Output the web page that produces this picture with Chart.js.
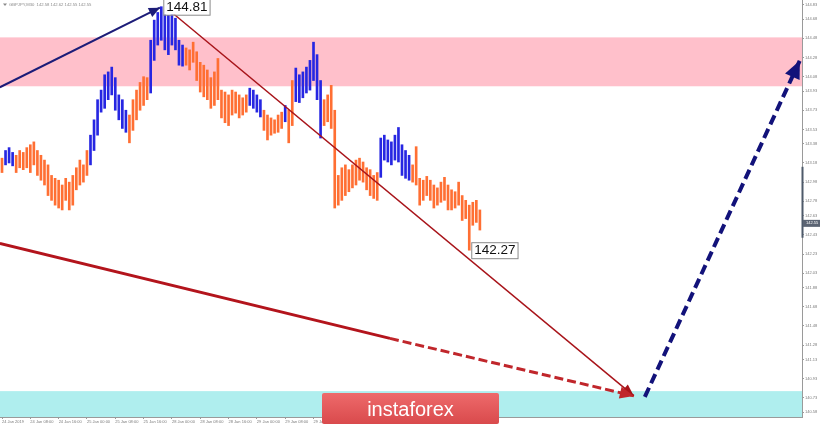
<!DOCTYPE html>
<html>
<head>
<meta charset="utf-8">
<script src="https://cdn.jsdelivr.net/npm/chart.js@4.4.1/dist/chart.umd.min.js"></script>
<style>
  html, body { margin: 0; padding: 0; background: #fff; }
  #wrap { width: 820px; height: 426px; }
</style>
</head>
<body>
<div id="wrap"><canvas id="chart" width="820" height="426"></canvas></div>
<script>
/* GBPJPY 足チャート + 波動分析の矢印・ゾーン */

const SYMBOL_TITLE = "GBPJPY,M30  142.58 142.62 142.55 142.55";

// 1本ごとの安値・高値(左端 = 24 Jan 00:00 を 0 とする足番号)
const BAR_LOW = [
  143.08, 143.16, 143.18, 143.15, 143.08, 143.13, 143.11, 143.13, 143.08, 143.16,
  143.05, 143.00, 142.95, 142.84, 142.79, 142.74, 142.71, 142.69, 142.79, 142.69,
  142.74, 142.90, 142.95, 142.98, 143.05, 143.16, 143.31, 143.47, 143.71, 143.75,
  143.84, 143.89, 143.73, 143.63, 143.54, 143.50, 143.39, 143.52, 143.63, 143.73,
  143.78, 143.84, 143.91, 144.25, 144.41, 144.46, 144.36, 144.31, 144.41, 144.36,
  144.20, 144.19, 144.20, 144.15, 144.23, 144.04, 143.92, 143.87, 143.84, 143.75,
  143.78, 143.84, 143.65, 143.60, 143.57, 143.68, 143.70, 143.65, 143.68, 143.71,
  143.78, 143.75, 143.71, 143.66, 143.52, 143.42, 143.47, 143.49, 143.50, 143.54,
  143.61, 143.39, 143.57, 143.82, 143.81, 143.86, 143.91, 143.94, 144.04, 143.84,
  143.44, 143.57, 143.61, 143.54, 142.71, 142.74, 142.79, 142.84, 142.88, 142.92,
  142.95, 143.00, 142.98, 142.90, 142.84, 142.81, 142.79, 143.03, 143.21, 143.19,
  143.16, 143.21, 143.19, 143.05, 143.02, 143.00, 142.98, 142.95, 142.74, 142.79,
  142.84, 142.79, 142.71, 142.74, 142.77, 142.79, 142.69, 142.69, 142.71, 142.74,
  142.58, 142.60, 142.27, 142.53, 142.56, 142.48,
];
const BAR_HIGH = [
  143.23, 143.31, 143.34, 143.29, 143.26, 143.31, 143.29, 143.34, 143.37, 143.40,
  143.31, 143.26, 143.21, 143.16, 143.05, 143.02, 143.00, 142.95, 143.02, 142.98,
  143.05, 143.13, 143.21, 143.16, 143.31, 143.47, 143.63, 143.84, 143.94, 144.10,
  144.13, 144.18, 144.07, 143.89, 143.84, 143.73, 143.68, 143.84, 143.94, 144.02,
  144.08, 144.07, 144.46, 144.67, 144.75, 144.81, 144.75, 144.72, 144.78, 144.69,
  144.46, 144.41, 144.38, 144.36, 144.44, 144.34, 144.23, 144.20, 144.15, 144.07,
  144.13, 144.27, 143.94, 143.92, 143.89, 143.94, 143.92, 143.89, 143.86, 143.89,
  143.96, 143.94, 143.89, 143.84, 143.73, 143.68, 143.65, 143.63, 143.68, 143.71,
  143.78, 143.73, 144.04, 144.17, 144.10, 144.13, 144.18, 144.25, 144.44, 144.31,
  144.04, 143.84, 143.89, 143.99, 143.73, 143.05, 143.13, 143.16, 143.11, 143.16,
  143.21, 143.23, 143.19, 143.13, 143.11, 143.05, 143.08, 143.44, 143.47, 143.42,
  143.40, 143.47, 143.55, 143.37, 143.31, 143.26, 143.16, 143.35, 143.02, 143.00,
  143.04, 143.00, 142.95, 142.92, 142.98, 143.03, 142.95, 142.90, 142.88, 142.98,
  142.84, 142.79, 142.74, 142.77, 142.79, 142.69,
];
// 足の色分け(b = 青, o = オレンジ)を連続数で
const WAVE_RUNS = [
  ["o", 1], ["b", 3], ["o", 21], ["b", 11], ["o", 6], ["b", 10], ["o", 18], ["b", 4],
  ["o", 6], ["b", 1], ["o", 2], ["b", 8], ["o", 16], ["b", 9], ["o", 20],
];

const X_TICK_IDX = [0, 8, 16, 24, 32, 40, 48, 56, 64, 72, 80, 88];
const X_LABELS = [
  "24 Jan 2019", "24 Jan 08:00", "24 Jan 16:00", "25 Jan 00:00", "25 Jan 08:00", "25 Jan 16:00",
  "28 Jan 00:00", "28 Jan 08:00", "28 Jan 16:00", "29 Jan 00:00", "29 Jan 08:00", "29 Jan 16:00",
];
const Y_TICKS = [
  144.83, 144.68, 144.48, 144.28, 144.08, 143.93, 143.73, 143.53, 143.38, 143.18, 142.98, 142.78,
  142.63, 142.43, 142.23, 142.03, 141.88, 141.68, 141.48, 141.28, 141.13, 140.93, 140.73, 140.58,
];

const LAST_PRICE = 142.55;
const AXIS_RANGE = [142.40, 143.14];
const ZONE_SELL = [143.98, 144.49];
const ZONE_TARGET = [140.53, 140.80];

// 高値・安値のラベル [足番号, 価格]
const MARKS = [[45, 144.81], [132, 142.27]];

// 矢印(足番号, 価格)
const UP_WAVE_X = [-0.6, 44.6];
const UP_WAVE_Y = [143.97, 144.80];
const DOWN_WAVE_X = [48, 178.5];
const DOWN_WAVE_Y = [144.75, 140.75];
const TREND_X = [-0.6, 109.6];
const TREND_Y = [142.34, 141.35];
const TREND_FWD_X = [109.6, 178.5];
const TREND_FWD_Y = [141.35, 140.75];
const FORECAST_X = [181.6, 225.4];
const FORECAST_Y = [140.74, 144.25];

const X_MIN = -0.565;
const X_MAX = 226;
const Y_MIN = 140.53;
const Y_MAX = 144.88;

const BLUE = "#2626e2";
const ORANGE = "#ff6f33";
const AXIS_INK = "#7a7a7a";
const TICK_FONT = { family: "'Liberation Sans', Arial, sans-serif", size: 4 };

const barColors = WAVE_RUNS.flatMap(([t, n]) => Array(n).fill(t === "b" ? BLUE : ORANGE));
const bars = BAR_LOW.map((lo, i) => ({ x: i, y: [lo, BAR_HIGH[i]] }));
const pts = (xs, ys) => xs.map((x, i) => ({ x, y: ys[i] }));

const lineDs = (data, color, width, dash, arrow) => ({
  type: "line",
  data,
  borderColor: color,
  backgroundColor: color,
  borderWidth: width,
  borderDash: dash || [],
  pointRadius: 0,
  pointHoverRadius: 0,
  fill: false,
  tension: 0,
  order: 0,
  arrow,
});

// ゾーン(ピンク=売り圏, 水色=目標圏)
const zonesPlugin = {
  id: "zones",
  beforeDatasetsDraw(chart) {
    const { ctx, chartArea: a, scales: { y } } = chart;
    ctx.save();
    ctx.fillStyle = "#ffc0cb";
    const p1 = y.getPixelForValue(ZONE_SELL[1]);
    const p0 = y.getPixelForValue(ZONE_SELL[0]);
    ctx.fillRect(a.left, p1, a.right - a.left, p0 - p1);
    ctx.fillStyle = "#afeeee";
    const c1 = y.getPixelForValue(ZONE_TARGET[1]);
    const c0 = y.getPixelForValue(ZONE_TARGET[0]);
    ctx.fillRect(a.left, c1, a.right - a.left, c0 - c1);
    ctx.restore();
  },
};

// 矢じり + 高値安値ラベル
const arrowPlugin = {
  id: "arrows",
  afterDatasetsDraw(chart) {
    const { ctx, scales: { x, y } } = chart;
    ctx.save();
    chart.data.datasets.forEach((ds, i) => {
      if (!ds.arrow) return;
      const el = chart.getDatasetMeta(i).data;
      const p = el[el.length - 1];
      const q = el[el.length - 2];
      const ang = Math.atan2(p.y - q.y, p.x - q.x);
      const { len, half } = ds.arrow;
      ctx.fillStyle = ds.borderColor;
      ctx.beginPath();
      ctx.moveTo(p.x, p.y);
      ctx.lineTo(p.x - len * Math.cos(ang) + half * Math.sin(ang), p.y - len * Math.sin(ang) - half * Math.cos(ang));
      ctx.lineTo(p.x - len * Math.cos(ang) - half * Math.sin(ang), p.y - len * Math.sin(ang) + half * Math.cos(ang));
      ctx.closePath();
      ctx.fill();
    });

    ctx.font = "13.5px 'Liberation Sans', Arial, sans-serif";
    ctx.textBaseline = "middle";
    MARKS.forEach(([i, v]) => {
      const px = x.getPixelForValue(i) + 2;
      const py = y.getPixelForValue(v);
      const s = v.toFixed(2);
      const w = ctx.measureText(s).width + 5;
      ctx.fillStyle = "#fff";
      ctx.fillRect(px, py - 8, w, 16);
      ctx.strokeStyle = "#8a8a8a";
      ctx.lineWidth = 1;
      ctx.strokeRect(px + 0.5, py - 7.5, w, 16);
      ctx.fillStyle = "#111";
      ctx.fillText(s, px + 3, py + 0.5);
    });
    ctx.restore();
  },
};

// タイトル・軸上の現在値・ロゴ
const overlayPlugin = {
  id: "overlay",
  afterDraw(chart) {
    const { ctx, chartArea: a, scales: { y } } = chart;
    ctx.save();
    ctx.fillStyle = "#8a8a8a";
    ctx.beginPath();
    ctx.moveTo(3, 3.5);
    ctx.lineTo(7, 3.5);
    ctx.lineTo(5, 6);
    ctx.closePath();
    ctx.fill();
    ctx.font = "4.2px 'Liberation Sans', Arial, sans-serif";
    ctx.textBaseline = "middle";
    ctx.fillText(SYMBOL_TITLE, 9, 5);

    const r0 = y.getPixelForValue(AXIS_RANGE[1]);
    const r1 = y.getPixelForValue(AXIS_RANGE[0]);
    ctx.fillStyle = "#4e5a6a";
    ctx.fillRect(a.right - 0.5, r0, 2, r1 - r0);

    const ly = y.getPixelForValue(LAST_PRICE);
    ctx.fillStyle = "#5b6473";
    ctx.fillRect(a.right + 1, ly - 3.5, 17, 7);
    ctx.fillStyle = "#fff";
    ctx.font = TICK_FONT.size + "px " + TICK_FONT.family;
    ctx.textAlign = "left";
    ctx.fillText(LAST_PRICE.toFixed(2), a.right + 4, ly);

    const lx = 322, lyTop = 393, lw = 177, lh = 31;
    const g = ctx.createLinearGradient(0, lyTop, 0, lyTop + lh);
    g.addColorStop(0, "#ee6a6b");
    g.addColorStop(1, "#d94a4c");
    ctx.fillStyle = g;
    ctx.beginPath();
    ctx.roundRect(lx, lyTop, lw, lh, 2);
    ctx.fill();
    ctx.fillStyle = "#fff";
    ctx.font = "20px 'Liberation Sans', Arial, sans-serif";
    ctx.textAlign = "center";
    ctx.textBaseline = "alphabetic";
    ctx.fillText("instaforex", lx + lw / 2, lyTop + 23);
    ctx.restore();
  },
};

new Chart(document.getElementById("chart"), {
  type: "bar",
  data: {
    datasets: [
      { type: "bar", data: bars, backgroundColor: barColors, barThickness: 2, borderWidth: 0, order: 1 },
      lineDs(pts(UP_WAVE_X, UP_WAVE_Y), "#1c1c78", 2, null, { len: 11, half: 5 }),
      lineDs(pts(DOWN_WAVE_X, DOWN_WAVE_Y), "#a8141a", 1.5, null, { len: 12, half: 5 }),
      lineDs(pts(TREND_X, TREND_Y), "#b3141c", 3, null, null),
      lineDs(pts(TREND_FWD_X, TREND_FWD_Y), "#c0262b", 3, [9, 4], { len: 14, half: 6 }),
      lineDs(pts(FORECAST_X, FORECAST_Y), "#12127a", 4, [10, 5], { len: 18, half: 8 }),
    ],
  },
  options: {
    responsive: false,
    animation: false,
    devicePixelRatio: 1,
    layout: { padding: 0 },
    plugins: { legend: { display: false }, tooltip: { enabled: false } },
    scales: {
      x: {
        type: "linear",
        min: X_MIN,
        max: X_MAX,
        offset: false,
        afterBuildTicks: (s) => { s.ticks = X_TICK_IDX.map((v) => ({ value: v })); },
        afterFit: (s) => { s.height = 9; s.paddingLeft = 0; s.paddingRight = 0; },
        ticks: {
          autoSkip: false,
          maxRotation: 0,
          minRotation: 0,
          align: "start",
          padding: 0,
          color: AXIS_INK,
          font: TICK_FONT,
          callback: (v, i) => X_LABELS[i],
        },
        grid: { display: true, drawOnChartArea: false, tickLength: 2, color: "#999", offset: false },
        border: { display: true, color: "#9a9a9a" },
      },
      y: {
        position: "right",
        min: Y_MIN,
        max: Y_MAX,
        afterBuildTicks: (s) => { s.ticks = Y_TICKS.map((v) => ({ value: v })); },
        afterFit: (s) => { s.width = 18; s.paddingTop = 0; s.paddingBottom = 0; },
        ticks: {
          autoSkip: false,
          padding: 1,
          color: AXIS_INK,
          font: TICK_FONT,
          callback: (v) => v.toFixed(2),
        },
        grid: { display: true, drawOnChartArea: false, tickLength: 2, color: "#999" },
        border: { display: true, color: "#9a9a9a" },
      },
    },
  },
  plugins: [zonesPlugin, arrowPlugin, overlayPlugin],
});
</script>
</body>
</html>
